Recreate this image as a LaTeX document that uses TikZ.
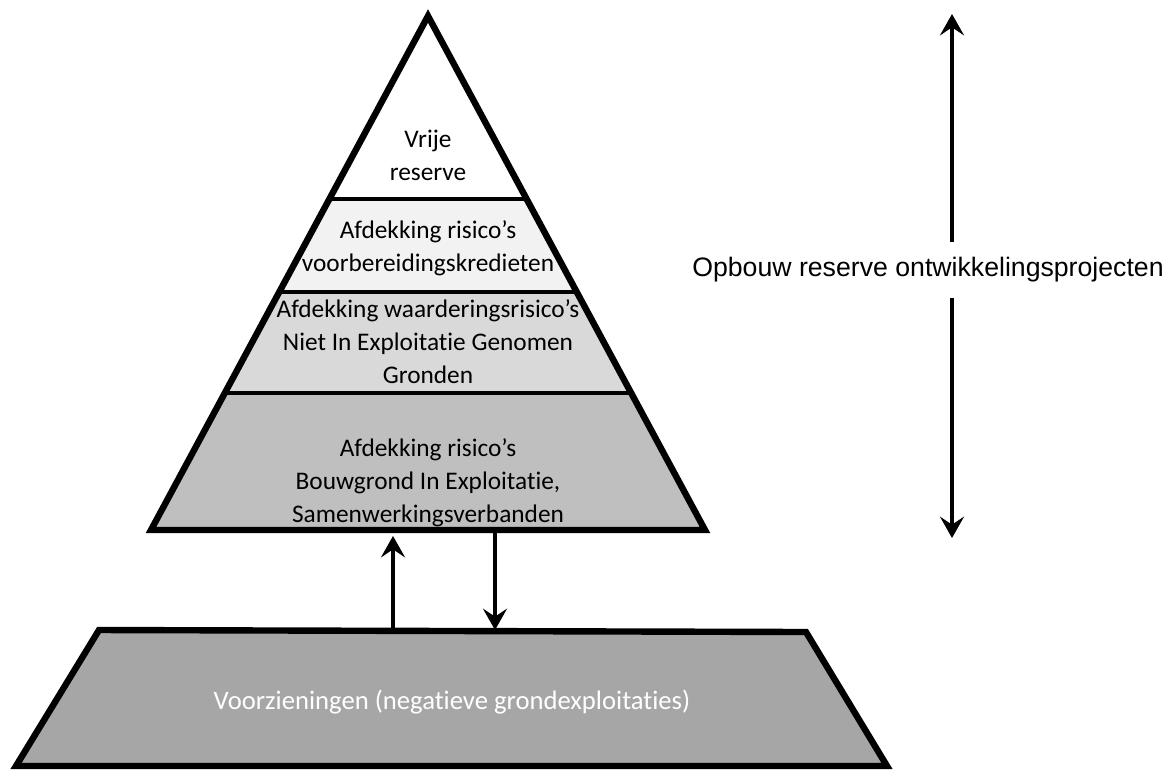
\documentclass[tikz,border=0pt]{standalone}
\usepackage{fontspec}
\setmainfont{Carlito}[Ligatures=NoCommon]
\newfontfamily\arialfont{Liberation Sans}
\usetikzlibrary{arrows.meta}

\definecolor{laagA}{HTML}{F2F2F2}
\definecolor{laagB}{HTML}{D9D9D9}
\definecolor{laagC}{HTML}{BFBFBF}
\definecolor{voorzgrijs}{HTML}{A6A6A6}

\begin{document}
\begin{tikzpicture}[x=0.75pt,y=-0.75pt,
  laag/.style={align=center,font=\fontsize{19}{24.75}\selectfont},
  pijl/.style={line width=3pt,-{Stealth[length=16pt,width=18pt,inset=6pt]}}]
\useasboundingbox (0,0) rectangle (1169,772);

% piramide
\fill[white] (428,16) -- (329.4,199) -- (526.6,199) -- cycle;
\fill[laagA] (329.4,199) -- (279.3,292) -- (576.7,292) -- (526.6,199) -- cycle;
\fill[laagB] (279.3,292) -- (224.8,393) -- (631.2,393) -- (576.7,292) -- cycle;
\fill[laagC] (224.8,393) -- (151,530) -- (705,530) -- (631.2,393) -- cycle;
\draw[line width=2.6pt] (329.4,199) -- (526.6,199);
\draw[line width=2.6pt] (279.3,292) -- (576.7,292);
\draw[line width=2.6pt] (224.8,393) -- (631.2,393);
\draw[line width=4.8pt] (428,16) -- (151,530) -- (705,530) -- cycle;

\node[laag] (vrij) at (428,155) {Vrije\\reserve};
\node[laag] (krediet) at (428,248.5) {Afdekking risico’s\\voorbereidingskredieten};
\node[laag] (niegg) at (428,342) {Afdekking waarderingsrisico’s\\Niet In Exploitatie Genomen\\Gronden};
\node[laag] (bie) at (428,483) {Afdekking risico’s\\Bouwgrond In Exploitatie,\\Samenwerkingsverbanden};

% voorzieningen
\draw[line width=4.8pt,fill=voorzgrijs] (99,630) -- (806,632) -- (887,766) -- (16,766) -- cycle;
\node[laag,font=\fontsize{20}{24}\selectfont,text=white] (voorz) at (452,702) {Voorzieningen (negatieve grondexploitaties)};

\coordinate (uitVoorz) at (393,630);
\coordinate (inBie) at (393,536);
\coordinate (uitBie) at (495,533);
\coordinate (inVoorz) at (495,630);
\draw[pijl] (uitVoorz) -- (inBie);
\draw[pijl] (uitBie) -- (inVoorz);

% opbouw
\node[font=\arialfont\fontsize{20}{24}\selectfont,minimum height=42pt,inner sep=0pt] (opbouw) at (928,270) {Opbouw reserve ontwikkelingsprojecten};
\coordinate (boven) at (952,14);
\coordinate (onder) at (952,538);
\draw[pijl] (opbouw.north -| boven) -- (boven);
\draw[pijl] (opbouw.south -| onder) -- (onder);
\end{tikzpicture}
\end{document}
